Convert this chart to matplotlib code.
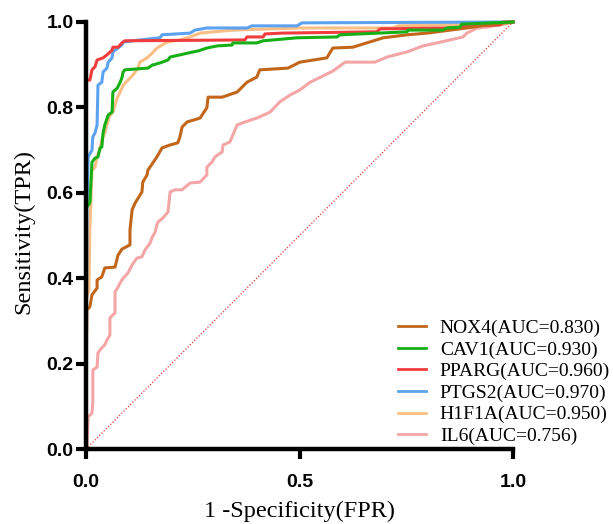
import matplotlib
matplotlib.use("Agg")
import matplotlib.pyplot as plt

# ROC curves (FPR, TPR)
nox4_fpr = [0, 0, 0.002, 0.009, 0.014, 0.026, 0.026, 0.037, 0.044, 0.068, 0.075, 0.084, 0.103, 0.103,
            0.108, 0.115, 0.131, 0.133, 0.143, 0.145, 0.166, 0.178, 0.197, 0.215, 0.220, 0.225, 0.237,
            0.267, 0.283, 0.286, 0.319, 0.354, 0.377, 0.400, 0.407, 0.473, 0.501, 0.564, 0.578, 0.625,
            0.696, 0.752, 0.799, 0.892, 0.939, 1.0]
nox4_tpr = [0, 0.138, 0.326, 0.333, 0.361, 0.377, 0.396, 0.403, 0.424, 0.426, 0.454, 0.468, 0.478, 0.513,
            0.560, 0.576, 0.602, 0.625, 0.642, 0.653, 0.684, 0.705, 0.712, 0.717, 0.731, 0.754, 0.766,
            0.775, 0.799, 0.824, 0.824, 0.836, 0.859, 0.871, 0.888, 0.892, 0.906, 0.916, 0.939, 0.941,
            0.963, 0.970, 0.974, 0.986, 0.993, 1.0]

cav1_fpr = [0, 0, 0.002, 0.009, 0.014, 0.021, 0.028, 0.033, 0.037, 0.040, 0.044, 0.052, 0.061, 0.063,
            0.073, 0.080, 0.084, 0.087, 0.091, 0.145, 0.155, 0.173, 0.192, 0.197, 0.220, 0.251, 0.262,
            0.283, 0.307, 0.342, 0.344, 0.400, 0.415, 0.461, 0.494, 0.588, 0.595, 0.752, 0.754, 0.836,
            0.845, 0.876, 0.880, 1.0]
cav1_tpr = [0, 0.560, 0.567, 0.576, 0.672, 0.681, 0.684, 0.705, 0.707, 0.740, 0.759, 0.782, 0.789, 0.836,
            0.845, 0.859, 0.869, 0.883, 0.888, 0.892, 0.899, 0.904, 0.911, 0.918, 0.923, 0.930, 0.932,
            0.939, 0.944, 0.946, 0.951, 0.951, 0.956, 0.960, 0.963, 0.965, 0.970, 0.977, 0.981, 0.981,
            0.986, 0.988, 0.995, 1.0]

pparg_fpr = [0, 0, 0.009, 0.014, 0.021, 0.026, 0.040, 0.049, 0.061, 0.063, 0.075, 0.084, 0.091, 0.372,
             0.377, 0.415, 0.419, 0.459, 0.681, 0.689, 0.876, 0.883, 0.970, 0.977, 1.0]
pparg_tpr = [0, 0.864, 0.864, 0.888, 0.895, 0.911, 0.916, 0.923, 0.934, 0.941, 0.941, 0.951, 0.956, 0.958,
             0.965, 0.965, 0.972, 0.974, 0.977, 0.984, 0.986, 0.991, 0.993, 1.0, 1.0]

ptgs2_fpr = [0, 0.002, 0.005, 0.014, 0.016, 0.021, 0.026, 0.028, 0.037, 0.040, 0.049, 0.052, 0.061, 0.063,
             0.075, 0.084, 0.087, 0.126, 0.173, 0.178, 0.244, 0.255, 0.283, 0.377, 0.389, 0.494, 0.506, 1.0]
ptgs2_tpr = [0, 0.560, 0.684, 0.700, 0.731, 0.740, 0.759, 0.852, 0.859, 0.883, 0.892, 0.906, 0.916, 0.930,
             0.939, 0.946, 0.953, 0.958, 0.963, 0.970, 0.974, 0.981, 0.986, 0.986, 0.991, 0.991, 0.998, 1.0]

h1f1a_fpr = [0, 0, 0.007, 0.009, 0.014, 0.021, 0.026, 0.033, 0.037, 0.044, 0.049, 0.056, 0.063, 0.073,
             0.080, 0.087, 0.110, 0.122, 0.126, 0.143, 0.155, 0.166, 0.178, 0.190, 0.220, 0.244, 0.267,
             0.344, 0.501, 0.719, 0.731, 0.977, 1.0]
h1f1a_tpr = [0, 0.349, 0.372, 0.513, 0.653, 0.660, 0.684, 0.705, 0.724, 0.740, 0.759, 0.782, 0.789, 0.822,
             0.836, 0.852, 0.876, 0.892, 0.906, 0.916, 0.927, 0.939, 0.946, 0.953, 0.958, 0.965, 0.974,
             0.981, 0.986, 0.986, 0.991, 0.995, 1.0]

il6_fpr = [0, 0.002, 0.005, 0.014, 0.016, 0.016, 0.026, 0.028, 0.037, 0.044, 0.049, 0.056, 0.056, 0.068,
           0.068, 0.075, 0.080, 0.087, 0.098, 0.108, 0.119, 0.131, 0.138, 0.150, 0.155, 0.162, 0.166,
           0.169, 0.180, 0.192, 0.197, 0.208, 0.225, 0.244, 0.267, 0.283, 0.283, 0.295, 0.302, 0.319,
           0.321, 0.337, 0.354, 0.384, 0.400, 0.431, 0.454, 0.478, 0.501, 0.525, 0.578, 0.607, 0.677,
           0.705, 0.752, 0.789, 0.822, 0.883, 0.892, 0.916, 0.939, 1.0]
il6_tpr = [0, 0.005, 0.075, 0.084, 0.110, 0.185, 0.192, 0.225, 0.237, 0.244, 0.255, 0.267, 0.307, 0.319,
           0.368, 0.379, 0.389, 0.400, 0.412, 0.431, 0.447, 0.450, 0.466, 0.482, 0.496, 0.508, 0.525,
           0.532, 0.541, 0.555, 0.602, 0.607, 0.607, 0.623, 0.625, 0.642, 0.660, 0.672, 0.684, 0.696,
           0.712, 0.719, 0.759, 0.770, 0.775, 0.789, 0.813, 0.829, 0.841, 0.859, 0.885, 0.906, 0.906,
           0.918, 0.930, 0.944, 0.951, 0.965, 0.974, 0.986, 0.988, 1.0]

labels = ["NOX4(AUC=0.830)", "CAV1(AUC=0.930)", "PPARG(AUC=0.960)",
          "PTGS2(AUC=0.970)", "H1F1A(AUC=0.950)", "IL6(AUC=0.756)"]
colors = ["#C2661B", "#16B016", "#F03C3C", "#5CA2F0", "#F8BE84", "#F4A6A6"]
layer = [5, 6, 4, 3, 2, 1]  # green ends up on top, pink at the bottom

curves = [(nox4_fpr, nox4_tpr), (cav1_fpr, cav1_tpr), (pparg_fpr, pparg_tpr),
          (ptgs2_fpr, ptgs2_tpr), (h1f1a_fpr, h1f1a_tpr), (il6_fpr, il6_tpr)]

fig = plt.figure(figsize=(6.13, 5.24), dpi=100)
ax = fig.add_axes([86 / 613, 1 - 449 / 524, 427 / 613, 427 / 524])

ax.plot([0, 1], [0, 1], color="#E03A3A", lw=0.9, ls=(0, (1, 1.5)), zorder=0.5)

handles = []
for (fpr, tpr), c, lab, z in zip(curves, colors, labels, layer):
    h, = ax.plot(fpr, tpr, color=c, lw=2.2, label=lab, clip_on=False, zorder=2 + z * 0.1)
    handles.append(h)

ax.set_xlim(0, 1)
ax.set_ylim(0, 1)
ax.set_xticks([0, 0.5, 1.0])
ax.set_yticks([0, 0.2, 0.4, 0.6, 0.8, 1.0])
ax.set_xticklabels(["0.0", "0.5", "1.0"])
ax.set_yticklabels(["0.0", "0.2", "0.4", "0.6", "0.8", "1.0"])

for side in ["top", "right"]:
    ax.spines[side].set_visible(False)
for side in ["left", "bottom"]:
    ax.spines[side].set_linewidth(3.2)
    ax.spines[side].set_zorder(3)

ax.tick_params(axis="both", direction="out", length=7, width=3.0)
ax.tick_params(axis="x", pad=11)
ax.tick_params(axis="y", pad=2)
for t in ax.get_xticklabels() + ax.get_yticklabels():
    t.set_fontfamily("Liberation Sans")
    t.set_fontweight("bold")
    t.set_fontsize(14)

ax.set_xlabel("1 -Specificity(FPR)", fontfamily="Liberation Serif", fontsize=17.5)
ax.set_ylabel("Sensitivity(TPR)", fontfamily="Liberation Serif", fontsize=17.5)
ax.xaxis.set_label_coords(0.5, -0.122)
ax.yaxis.set_label_coords(-0.122, 0.51)

leg = fig.legend(handles=handles, loc="lower left", bbox_to_anchor=(398 / 613, 1 - 445 / 524),
                 frameon=False, prop={"family": "Liberation Serif", "size": 14},
                 handlelength=1.45, handletextpad=0.7, labelspacing=0.2,
                 borderpad=0, borderaxespad=0)
for line in leg.get_lines():
    line.set_linewidth(2.0)

fig.savefig("out.png", dpi=100)
